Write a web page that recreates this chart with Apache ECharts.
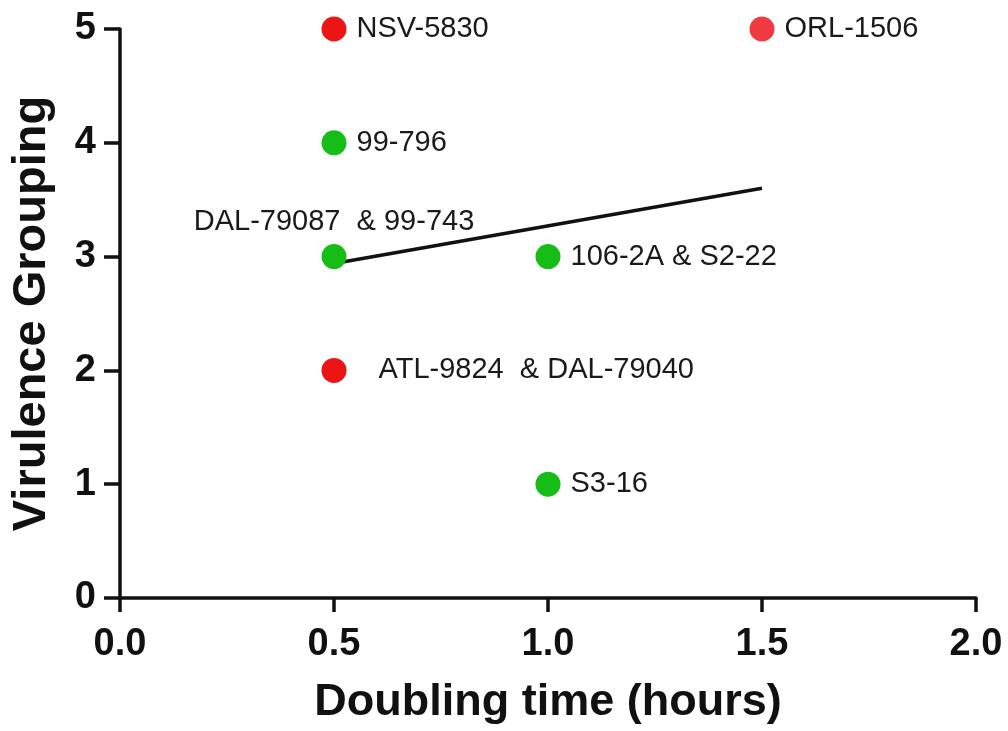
<!DOCTYPE html>
<html>
<head>
<meta charset="utf-8">
<title>Virulence Grouping vs Doubling time</title>
<script src="https://cdn.jsdelivr.net/npm/echarts@6/dist/echarts.min.js"></script>
<style>
  html, body { margin: 0; padding: 0; background: #ffffff; }
  #chart { width: 1008px; height: 731px; }
</style>
</head>
<body>
<div id="chart"></div>
<script>
// Strain measurements: doubling time (hours) and virulence group
const doublingTime = [0.5, 1.5, 0.5, 0.5, 1.0, 0.5, 1.0];
const virulence = [5, 5, 4, 3, 3, 2, 1];
const strainNames = [
  'NSV-5830',
  'ORL-1506',
  '99-796',
  'DAL-79087  & 99-743',
  '106-2A & S2-22',
  'ATL-9824  & DAL-79040',
  'S3-16'
];
const strainClass = ['red', 'lightRed', 'green', 'green', 'green', 'red', 'green'];

// Fitted trend line end points
const trendX = [0.5, 1.5];
const trendY = [2.94, 3.60];

// Axis ticks
const xTicks = [0, 0.5, 1.0, 1.5, 2.0];
const yTicks = [0, 1, 2, 3, 4, 5];

const classColors = { red: '#ec1414', lightRed: '#ee3a40', green: '#16bd16' };
// How each strain name sits beside its dot
const labelPlacement = {
  3: { position: 'top', distance: 8 },
  5: { position: 'right', distance: 32 }
};

const font = '"Liberation Sans", Arial, Helvetica, sans-serif';

const scatterData = doublingTime.map((x, i) => {
  const place = labelPlacement[i] || { position: 'right', distance: 10 };
  return {
    value: [x, virulence[i]],
    name: strainNames[i],
    itemStyle: { color: classColors[strainClass[i]], opacity: 1 },
    label: { position: place.position, distance: place.distance }
  };
});

const chart = echarts.init(document.getElementById('chart'), null, { renderer: 'canvas' });

chart.setOption({
  animation: false,
  backgroundColor: '#ffffff',
  grid: { left: 120, right: 32, top: 29, bottom: 133, containLabel: false },
  xAxis: {
    type: 'value',
    min: xTicks[0],
    max: xTicks[xTicks.length - 1],
    interval: xTicks[1] - xTicks[0],
    name: 'Doubling time (hours)',
    nameLocation: 'middle',
    nameGap: 82,
    nameTextStyle: { fontFamily: font, fontWeight: 'bold', fontSize: 45, color: '#111' },
    axisLine: { show: true, lineStyle: { color: '#111', width: 3.5 } },
    axisTick: { show: true, inside: false, length: 14, lineStyle: { color: '#111', width: 3.5 } },
    axisLabel: {
      margin: 28,
      fontFamily: font, fontWeight: 'bold', fontSize: 38, color: '#111',
      formatter: v => v.toFixed(1)
    },
    splitLine: { show: false }
  },
  yAxis: {
    type: 'value',
    min: yTicks[0],
    max: yTicks[yTicks.length - 1],
    interval: yTicks[1] - yTicks[0],
    name: 'Virulence Grouping',
    nameLocation: 'middle',
    nameGap: 64,
    nameRotate: 90,
    nameTextStyle: { fontFamily: font, fontWeight: 'bold', fontSize: 47, color: '#111' },
    axisLine: { show: true, lineStyle: { color: '#111', width: 3.5 } },
    axisTick: { show: true, inside: false, length: 16, lineStyle: { color: '#111', width: 3.5 } },
    axisLabel: {
      margin: 24,
      fontFamily: font, fontWeight: 'bold', fontSize: 38, color: '#111'
    },
    splitLine: { show: false }
  },
  series: [
    {
      type: 'line',
      data: trendX.map((x, i) => [x, trendY[i]]),
      symbol: 'none',
      lineStyle: { color: '#111', width: 3.5 },
      z: 2
    },
    {
      type: 'scatter',
      data: scatterData,
      symbol: 'circle',
      symbolSize: 25,
      itemStyle: { opacity: 1 },
      label: {
        show: true,
        formatter: p => p.name,
        fontFamily: font,
        fontSize: 29,
        color: '#1a1a1a',
        opacity: 1
      },
      z: 3
    }
  ]
});
</script>
</body>
</html>
